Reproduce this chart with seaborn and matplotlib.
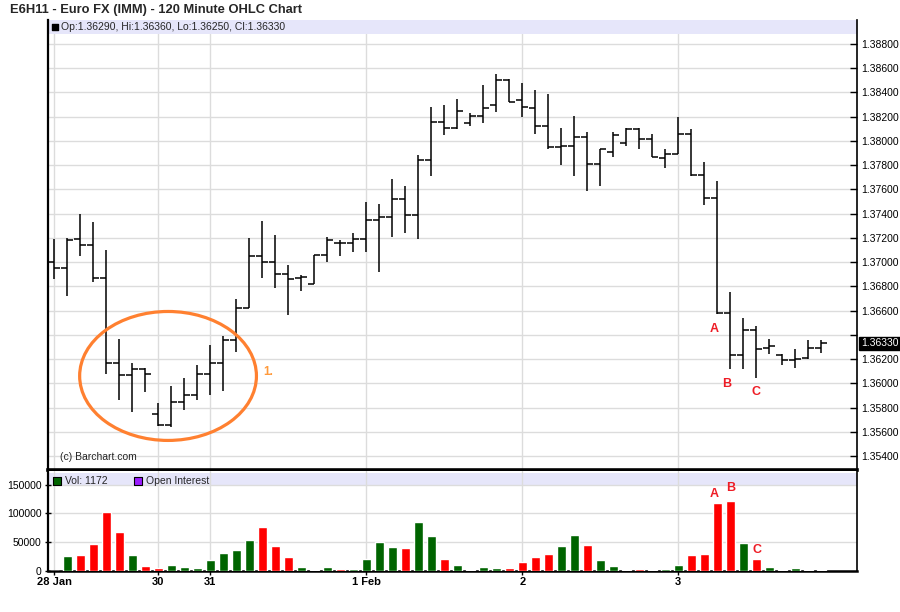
import matplotlib
matplotlib.use('Agg')
import matplotlib.pyplot as plt
from matplotlib.patches import Ellipse, Rectangle
from matplotlib.transforms import blended_transform_factory
import numpy as np
import pandas as pd
import seaborn as sns

# 120 minute bars, 28 Jan - 3 Feb (E6H11)
opens = [1.3700, 1.3695, 1.3719, 1.3714, 1.3687, 1.3617, 1.3607, 1.3612, 1.3575, 1.3566,
         1.3585, 1.3590, 1.3608, 1.3617, 1.3636, 1.3662, 1.3705, 1.3700, 1.3690, 1.3687,
         1.3682, 1.3706, 1.3716, 1.3716, 1.3719, 1.3735, 1.3737, 1.3752, 1.3739, 1.3784,
         1.3816, 1.3811, 1.3815, 1.3821, 1.3830, 1.3850, 1.3834, 1.3827, 1.3812, 1.3795,
         1.3796, 1.3803, 1.3781, 1.3791, 1.3798, 1.3810, 1.3802, 1.3786, 1.3789, 1.3806,
         1.3772, 1.3753, 1.3658, 1.3623, 1.3644, 1.3629, 1.3623, 1.3619, 1.3621, 1.3629]
highs = [1.3719, 1.3720, 1.3740, 1.3733, 1.3710, 1.3637, 1.3617, 1.3613, 1.3584, 1.3598,
         1.3604, 1.3615, 1.3632, 1.3639, 1.3670, 1.3720, 1.3734, 1.3722, 1.3698, 1.3689,
         1.3706, 1.3721, 1.3718, 1.3724, 1.3750, 1.3748, 1.3769, 1.3763, 1.3788, 1.3828,
         1.3830, 1.3835, 1.3823, 1.3846, 1.3855, 1.3851, 1.3848, 1.3842, 1.3839, 1.3811,
         1.3821, 1.3807, 1.3793, 1.3807, 1.3811, 1.3811, 1.3806, 1.3793, 1.3820, 1.3810,
         1.3783, 1.3767, 1.3675, 1.3654, 1.3647, 1.3637, 1.3624, 1.3628, 1.3636, 1.3636]
lows = [1.3686, 1.3672, 1.3705, 1.3684, 1.3608, 1.3586, 1.3576, 1.3593, 1.3565, 1.3564,
        1.3578, 1.3586, 1.3590, 1.3594, 1.3626, 1.3662, 1.3687, 1.3679, 1.3656, 1.3676,
        1.3682, 1.3700, 1.3705, 1.3708, 1.3708, 1.3692, 1.3721, 1.3724, 1.3719, 1.3771,
        1.3805, 1.3810, 1.3812, 1.3815, 1.3824, 1.3832, 1.3820, 1.3806, 1.3793, 1.3780,
        1.3771, 1.3759, 1.3763, 1.3787, 1.3796, 1.3793, 1.3787, 1.3778, 1.3789, 1.3771,
        1.3747, 1.3657, 1.3612, 1.3612, 1.3604, 1.3624, 1.3615, 1.3613, 1.3620, 1.3625]
closes = [1.3695, 1.3718, 1.3714, 1.3687, 1.3617, 1.3607, 1.3612, 1.3608, 1.3566, 1.3585,
          1.3590, 1.3608, 1.3617, 1.3636, 1.3662, 1.3705, 1.3700, 1.3690, 1.3686, 1.3688,
          1.3706, 1.3718, 1.3716, 1.3719, 1.3735, 1.3737, 1.3752, 1.3739, 1.3784, 1.3816,
          1.3811, 1.3825, 1.3821, 1.3827, 1.3850, 1.3832, 1.3828, 1.3812, 1.3795, 1.3796,
          1.3803, 1.3781, 1.3793, 1.3805, 1.3810, 1.3802, 1.3787, 1.3789, 1.3806, 1.3772,
          1.3753, 1.3658, 1.3623, 1.3644, 1.3628, 1.3631, 1.3619, 1.3620, 1.3629, 1.3633]
volumes = [0, 26000, 27700, 46700, 102100, 67500, 27700, 8700, 5200, 10400,
           6900, 5200, 19000, 31200, 36400, 53700, 76200, 43300, 24200, 6900,
           1700, 6900, 3500, 3500, 20800, 50200, 41500, 39800, 84800, 60600,
           20800, 10400, 2300, 6900, 5200, 5200, 15600, 24200, 29400, 43300,
           62300, 45000, 19000, 8700, 1700, 3500, 1700, 3500, 10400, 27700,
           29400, 117700, 121200, 48500, 20800, 6900, 1700, 5200, 1700, 1172]

day_pos = [0, 8, 12, 24, 36, 48]
day_labels = ['28 Jan', '30', '31', '1 Feb', '2', '3']
price_ticks = np.round(np.arange(1.354, 1.3881, 0.002), 3)
vol_ticks = [0, 50000, 100000, 150000]

GREEN = '#006400'
RED = '#ff0000'
GRID = '#dcdcdc'
STRIP = '#e6e6fa'
ORANGE = '#ff8030'
NOTE_RED = '#ee1c25'

df = pd.DataFrame({'bar': np.arange(len(opens)), 'open': opens, 'high': highs,
                   'low': lows, 'close': closes, 'volume': volumes})
prev_close = df['close'].shift(1).fillna(df['open'])
df['dir'] = np.where(df['close'] >= prev_close, 'up', 'down')

sns.set_theme(style='white')
plt.rcParams['font.family'] = ['Liberation Sans', 'DejaVu Sans']

W, H = 900, 612
fig = plt.figure(figsize=(9, 6.12), dpi=100)
ax = fig.add_axes([48 / W, 1 - 470 / H, 809 / W, 450 / H])
axv = fig.add_axes([48 / W, 1 - 571 / H, 809 / W, 100 / H])

xlim = (-0.485, 61.75)

# ---- price panel ----
ax.set_xlim(*xlim)
ax.set_ylim(1.35285, 1.38998)
ax.set_yticks(price_ticks)
ax.set_yticklabels(['' if abs(t - 1.364) < 1e-9 else '{:.5f}'.format(t)
                    for t in price_ticks])
ax.yaxis.tick_right()
ax.tick_params(axis='y', direction='in', length=5, width=1, pad=3,
               labelsize=7.5, colors='black', right=True)
ax.set_xticks(day_pos)
ax.tick_params(axis='x', bottom=False, labelbottom=False)
ax.grid(True, color=GRID, lw=1)
ax.set_axisbelow(True)

tick_w = 0.46
ax.vlines(df['bar'], df['low'], df['high'], color='black', lw=1.1, zorder=3)
ax.hlines(df['open'], df['bar'] - tick_w, df['bar'], color='black', lw=1.1, zorder=3)
ax.hlines(df['close'], df['bar'], df['bar'] + tick_w, color='black', lw=1.1, zorder=3)

for side in ['left', 'right', 'bottom']:
    ax.spines[side].set_color('black')
ax.spines['top'].set_visible(False)
ax.spines['left'].set_linewidth(1.6)
ax.spines['right'].set_linewidth(1.2)
ax.spines['bottom'].set_linewidth(2.6)

ax.add_patch(Rectangle((0, 436 / 450), 1, 14 / 450, transform=ax.transAxes,
                       facecolor=STRIP, edgecolor='none', zorder=2))
ax.scatter([6.5 / 809], [(450 - 7) / 450], marker='s', s=22, color='black',
           transform=ax.transAxes, zorder=4)
last = df.iloc[-1]
ax.text(13 / 809, (450 - 7) / 450,
        'Op:{:.5f}, Hi:{:.5f}, Lo:{:.5f}, Cl:{:.5f}'.format(
            last['open'], last['high'], last['low'], last['close']),
        transform=ax.transAxes, fontsize=7.5, va='center', ha='left', zorder=4)
ax.text(12 / 809, 13 / 450, '(c) Barchart.com', transform=ax.transAxes,
        fontsize=7.5, va='center', ha='left')

# last price box on the price scale
tr = blended_transform_factory(ax.transAxes, ax.transData)
ax.text(1 + 4 / 809, last['close'], '{:.5f}'.format(last['close']), transform=tr,
        fontsize=7.5, color='white', va='center', ha='left',
        bbox=dict(boxstyle='square,pad=0.15', facecolor='black', edgecolor='black'))

# rounding bottom highlight
ax.add_patch(Ellipse((8.75, 1.36061), width=13.6, height=0.01064, fill=False,
                     edgecolor=ORANGE, lw=2.3, zorder=4))
ax.text(16.05, 1.36094, '1.', color='#ff9a3c', fontsize=8.5, fontweight='bold',
        va='center', ha='left')
for label, xi, yp in [('A', 50.8, 1.36452), ('B', 51.7, 1.35995), ('C', 54.0, 1.35931)]:
    ax.text(xi, yp, label, color=NOTE_RED, fontsize=9, fontweight='bold',
            ha='center', va='center', zorder=5)

# ---- volume panel ----
sns.barplot(data=df, x='bar', y='volume', hue='dir', native_scale=True,
            palette={'up': GREEN, 'down': RED}, dodge=False, width=0.7,
            saturation=1, legend=False, ax=axv, zorder=3)
axv.set_xlim(*xlim)
axv.set_ylim(0, 173600)
axv.set_xlabel('')
axv.set_ylabel('')
axv.set_xticks(day_pos)
axv.set_xticklabels(day_labels, fontweight='bold', fontsize=8)
axv.set_yticks(vol_ticks)
axv.set_yticklabels([str(v) for v in vol_ticks])
axv.tick_params(axis='x', bottom=True, direction='out', length=3, width=1,
                pad=1, colors='black')
axv.tick_params(axis='y', left=True, direction='inout', length=5, width=1,
                pad=2, labelsize=7.5, colors='black')
axv.grid(True, color=GRID, lw=1, zorder=0.6)
axv.set_axisbelow(True)
for side in ['left', 'right', 'bottom']:
    axv.spines[side].set_color('black')
axv.spines['top'].set_visible(False)
axv.spines['left'].set_linewidth(1.6)
axv.spines['right'].set_linewidth(1.2)
axv.spines['bottom'].set_linewidth(1.8)

# legend strip sits under the vertical grid lines
axv.add_patch(Rectangle((0, 0.865), 1, 0.12, transform=axv.transAxes,
                        facecolor=STRIP, edgecolor='none', zorder=0.3))
axv.scatter([9 / 809], [0.9], marker='s', s=30, color=GREEN, edgecolors='black',
            linewidths=0.8, transform=axv.transAxes, zorder=4)
axv.text(17 / 809, 0.9, 'Vol: {}'.format(int(last['volume'])), transform=axv.transAxes,
         fontsize=7.5, va='center', ha='left', zorder=4)
axv.scatter([90 / 809], [0.9], marker='s', s=30, color='#9b1cff', edgecolors='black',
            linewidths=0.8, transform=axv.transAxes, zorder=4)
axv.text(98 / 809, 0.9, 'Open Interest', transform=axv.transAxes,
         fontsize=7.5, va='center', ha='left', zorder=4)
for label, xi, yv in [('A', 50.77, 133700), ('B', 52.0, 143600), ('C', 54.05, 36500)]:
    axv.text(xi, yv, label, color=NOTE_RED, fontsize=9, fontweight='bold',
             ha='center', va='center', zorder=5)

fig.text(10 / W, 1 - 10 / H, 'E6H11 - Euro FX (IMM) - 120 Minute OHLC Chart',
         fontsize=9.3, fontweight='bold', va='center', ha='left')

fig.savefig('out.png', dpi=100, facecolor='white')
